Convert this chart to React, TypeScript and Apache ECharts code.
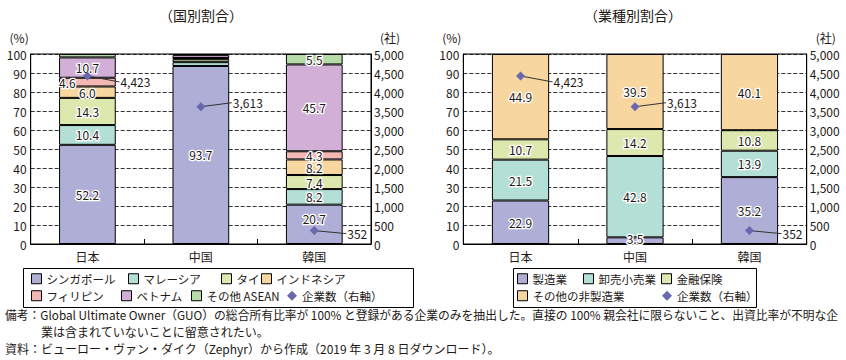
import React, { useEffect, useRef } from "react";
import * as echarts from "echarts";

// ---------- data ----------
const CATEGORIES = ["日本", "中国", "韓国"];

const COUNTRY_NAMES = ["シンガポール", "マレーシア", "タイ", "インドネシア", "フィリピン", "ベトナム", "その他 ASEAN"];
const SINGAPORE = [52.2, 93.7, 20.7];
const MALAYSIA = [10.4, 2.0, 8.2];
const THAILAND = [14.3, 1.5, 7.4];
const INDONESIA = [6.0, 0.5, 8.2];
const PHILIPPINES = [4.6, 0.2, 4.3];
const VIETNAM = [10.7, 1.5, 45.7];
const OTHER_ASEAN = [1.8, 0.6, 5.5];
const COUNTRY_VALUES = [SINGAPORE, MALAYSIA, THAILAND, INDONESIA, PHILIPPINES, VIETNAM, OTHER_ASEAN];

const INDUSTRY_NAMES = ["製造業", "卸売小売業", "金融保険", "その他の非製造業"];
const MANUFACTURING = [22.9, 3.5, 35.2];
const WHOLESALE = [21.5, 42.8, 13.9];
const FINANCE = [10.7, 14.2, 10.8];
const OTHER_NONMFG = [44.9, 39.5, 40.1];
const INDUSTRY_VALUES = [MANUFACTURING, WHOLESALE, FINANCE, OTHER_NONMFG];

const COMPANY_COUNTS = [4423, 3613, 352];
const COUNT_NAME = "企業数（右軸）";

const TITLE_LEFT = "（国別割合）";
const TITLE_RIGHT = "（業種別割合）";
const NOTE_LINES = [
  "備考：Global Ultimate Owner（GUO）の総合所有比率が 100% と登録がある企業のみを抽出した。直接の 100% 親会社に限らないこと、出資比率が不明な企",
  "業は含まれていないことに留意されたい。",
  "資料：ビューロー・ヴァン・ダイク（Zephyr）から作成（2019 年 3 月 8 日ダウンロード）。",
];

// ---------- styles / layout ----------
const FONT = '"Noto Sans CJK JP", "Noto Sans", sans-serif';
const INK = "#231815";
const COUNTRY_COLORS = ["#AEAED7", "#B4DFD6", "#DDE8AE", "#F8D6A0", "#F4B8B4", "#D1AFD7", "#B6DAA8"];
const INDUSTRY_COLORS = ["#AEAED7", "#B4DFD6", "#DDE8AE", "#F8D6A0"];
const DIAMOND = "#6868AE";
const MIN_LABEL = 3;

const LEFT_LABEL_OFFSETS: Record<string, any[]> = {
  "フィリピン": [[-20, 0], null, null],
  "シンガポール": [null, null, [0, -6]],
};
const RIGHT_LABEL_OFFSETS: Record<string, any[]> = {
  "製造業": [null, [0, -2], null],
};
const COUNT_LABEL_OFFSETS = [
  [33, 6],
  [32, -4],
  [33, 3],
];

const LEFT_LEGEND_POS = [
  [31, 280], [128, 280], [221, 280], [261, 280],
  [31, 297], [121, 297], [191, 297], [287, 297],
];
const RIGHT_LEGEND_POS = [
  [517, 280], [583, 280], [661, 280],
  [517, 297], [662, 297],
];
const NOTE_FONT = `12px ${FONT}`;
const NOTE_MAX_WIDTH = 834;

const fmtInt = (v: number) => Math.round(v).toLocaleString("en-US");

function measure(text: string, font: string) {
  const ctx = document.createElement("canvas").getContext("2d");
  if (!ctx) return 0;
  ctx.font = font;
  return ctx.measureText(text).width;
}

function makeBarSeries(names: string[], values: number[][], colors: string[], axisX: number, axisY: number, stack: string, offsets: Record<string, any[]>) {
  return names.map((name, si) => ({
    type: "bar",
    name,
    stack,
    xAxisIndex: axisX,
    yAxisIndex: axisY,
    barWidth: "50%",
    itemStyle: { color: colors[si], borderColor: "#000", borderWidth: 1 },
    label: {
      show: true,
      position: "inside",
      color: INK,
      fontSize: 12,
      lineHeight: 11,
      fontFamily: FONT,
      textBorderColor: "#fff",
      textBorderWidth: 2.5,
      formatter: (p: any) => Number(p.value).toFixed(1),
    },
    data: values[si].map((v, ci) => {
      const off = offsets[name] ? offsets[name][ci] : null;
      const lbl: any = { show: v >= MIN_LABEL };
      if (off) lbl.offset = off;
      return { value: v, label: lbl };
    }),
  }));
}

function makeCountSeries(axisX: number, axisY: number) {
  return {
    type: "custom",
    name: COUNT_NAME,
    xAxisIndex: axisX,
    yAxisIndex: axisY,
    z: 10,
    itemStyle: { color: DIAMOND },
    data: COMPANY_COUNTS.map((v, i) => [i, v]),
    renderItem: (params: any, api: any) => {
      const i = params.dataIndex;
      const p = api.coord([api.value(0), api.value(1)]);
      const [dx, dy] = COUNT_LABEL_OFFSETS[i];
      const r = 4.5;
      return {
        type: "group",
        children: [
          {
            type: "line",
            shape: { x1: p[0], y1: p[1], x2: p[0] + dx - 1, y2: p[1] + dy },
            style: { stroke: "#333", lineWidth: 1 },
          },
          {
            type: "polygon",
            shape: { points: [[p[0], p[1] - r], [p[0] + r, p[1]], [p[0], p[1] + r], [p[0] - r, p[1]]] },
            style: { fill: DIAMOND },
          },
          {
            type: "text",
            x: p[0] + dx,
            y: p[1] + dy,
            style: {
              text: fmtInt(api.value(1)),
              fill: INK,
              font: `12px ${FONT}`,
              textAlign: "left",
              textVerticalAlign: "middle",
              align: "left",
              verticalAlign: "middle",
            },
          },
        ],
      };
    },
  };
}

function xAxis(gridIndex: number) {
  return {
    type: "category",
    gridIndex,
    data: CATEGORIES,
    axisLine: { lineStyle: { color: "#000", width: 1 } },
    axisTick: { show: true, inside: true, length: 5, lineStyle: { color: "#000" } },
    axisLabel: { color: INK, fontSize: 12, fontFamily: FONT, margin: 6 },
  };
}

function yAxes(gridIndex: number) {
  return [
    {
      type: "value",
      gridIndex,
      min: 0,
      max: 100,
      interval: 10,
      position: "left",
      name: "(%)",
      nameLocation: "end",
      nameGap: 11,
      nameTextStyle: { color: INK, fontSize: 12, fontFamily: FONT, align: "right", padding: [0, 2, 0, 0] },
      axisLine: { show: true, lineStyle: { color: "#000" } },
      axisTick: { show: false },
      axisLabel: { color: INK, fontSize: 12, fontFamily: FONT, margin: 4 },
      splitLine: { show: true, lineStyle: { color: "#000", type: [4, 2], width: 0.8 } },
    },
    {
      type: "value",
      gridIndex,
      min: 0,
      max: 5000,
      interval: 500,
      position: "right",
      name: "(社)",
      nameLocation: "end",
      nameGap: 11,
      nameTextStyle: { color: INK, fontSize: 12, fontFamily: FONT, align: "left", padding: [0, 0, 0, 9] },
      axisLine: { show: true, lineStyle: { color: "#000" } },
      axisTick: { show: false },
      axisLabel: { color: INK, fontSize: 12, fontFamily: FONT, margin: 3, formatter: (v: number) => fmtInt(v) },
      splitLine: { show: false },
    },
  ];
}

function legendItems(names: string[], positions: number[][]) {
  return names.map((name, i) => {
    const isCount = name === COUNT_NAME;
    return {
      left: positions[i][0],
      top: positions[i][1] - 7,
      padding: 0,
      itemWidth: 10,
      itemHeight: 10,
      selectedMode: false,
      textStyle: { color: INK, fontSize: 11.5, fontFamily: FONT },
      data: [
        isCount
          ? { name, icon: "diamond", itemStyle: { color: DIAMOND, borderWidth: 0 } }
          : { name, icon: "rect", itemStyle: { borderColor: "#000", borderWidth: 1 } },
      ],
    };
  });
}

export default function App() {
  const ref = useRef<HTMLDivElement>(null);

  useEffect(() => {
    document.body.style.margin = "0";
    if (!ref.current) return;
    const chart = echarts.init(ref.current, null, { renderer: "svg" });

    const noteElements = NOTE_LINES.map((t, i) => {
      const x = i === 1 ? 41 : 5;
      const w = measure(t, NOTE_FONT);
      const avail = NOTE_MAX_WIDTH - (x - 5);
      const s = w > avail ? avail / w : 1;
      return {
        type: "text",
        x,
        y: 314 + i * 17,
        scaleX: s,
        style: { text: t, fill: INK, font: NOTE_FONT, textAlign: "left", textVerticalAlign: "middle", align: "left", verticalAlign: "middle" },
      };
    });

    const option: any = {
      animation: false,
      textStyle: { fontFamily: FONT },
      grid: [
        { left: 30.7, top: 54, width: 340.3, height: 190, show: true, borderColor: "#000", borderWidth: 1, backgroundColor: "transparent" },
        { left: 463.3, top: 54, width: 343.4, height: 190, show: true, borderColor: "#000", borderWidth: 1, backgroundColor: "transparent" },
      ],
      xAxis: [xAxis(0), xAxis(1)],
      yAxis: [...yAxes(0), ...yAxes(1)],
      legend: [
        ...legendItems([...COUNTRY_NAMES, COUNT_NAME], LEFT_LEGEND_POS),
        ...legendItems([...INDUSTRY_NAMES, COUNT_NAME], RIGHT_LEGEND_POS),
      ],
      series: [
        ...makeBarSeries(COUNTRY_NAMES, COUNTRY_VALUES, COUNTRY_COLORS, 0, 0, "country", LEFT_LABEL_OFFSETS),
        makeCountSeries(0, 1),
        ...makeBarSeries(INDUSTRY_NAMES, INDUSTRY_VALUES, INDUSTRY_COLORS, 1, 2, "industry", RIGHT_LABEL_OFFSETS),
        makeCountSeries(1, 3),
      ],
      graphic: [
        {
          type: "text",
          x: 201,
          y: 15,
          style: { text: TITLE_LEFT, fill: INK, font: `14px ${FONT}`, textAlign: "center", textVerticalAlign: "middle", align: "center", verticalAlign: "middle" },
        },
        {
          type: "text",
          x: 633,
          y: 15,
          style: { text: TITLE_RIGHT, fill: INK, font: `14px ${FONT}`, textAlign: "center", textVerticalAlign: "middle", align: "center", verticalAlign: "middle" },
        },
        {
          type: "rect",
          shape: { x: 23.5, y: 268.5, width: 390, height: 39 },
          style: { fill: "none", stroke: "#000", lineWidth: 1 },
        },
        {
          type: "rect",
          shape: { x: 513.5, y: 268.5, width: 243, height: 39 },
          style: { fill: "none", stroke: "#000", lineWidth: 1 },
        },
        ...noteElements,
      ],
    };

    chart.setOption(option);
    return () => chart.dispose();
  }, []);

  return <div ref={ref} style={{ width: 846, height: 360 }} />;
}
